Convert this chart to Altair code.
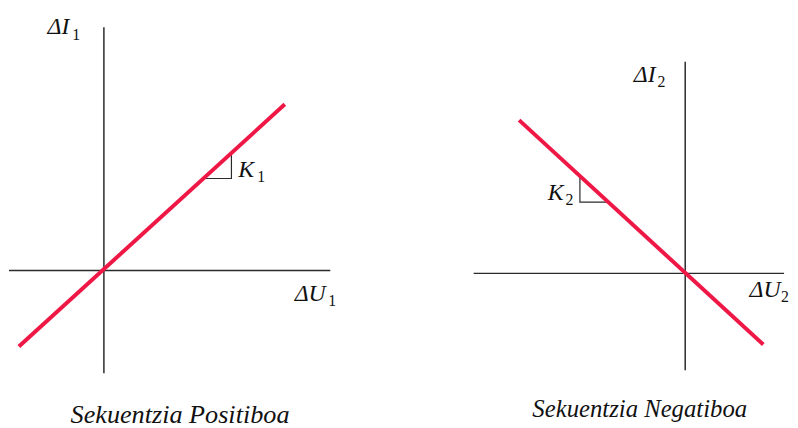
import altair as alt
import pandas as pd

# ---------------- data (diagram units, origin at the axis crossing) ----------------
# Left panel: positive sequence
pos_hax_x = [-9.6, 22.9]
pos_vax_y = [-10.4, 24.6]
pos_line_x = [-8.6, 18.3]
pos_line_y = [-7.7, 16.8]
pos_tri_x = [10.2, 12.9, 12.9]
pos_tri_y = [9.3, 9.3, 11.7]
pos_lbl_text = ["ΔI", "ΔU", "K"]
pos_lbl_x = [-5.7, 19.3, 13.6]
pos_lbl_y = [23.9, -3.1, 9.4]
pos_sub_text = ["1", "1", "1"]
pos_sub_x = [-3.2, 22.7, 15.5]
pos_sub_y = [23.3, -3.6, 8.9]
pos_title = "Sekuentzia Positiboa"
pos_title_xy = [7.7, -15.4]
pos_xdom = [-9.6, 29.4]
pos_ydom = [-15.7, 26.3]

# Right panel: negative sequence
neg_hax_x = [-21.4, 10.0]
neg_vax_y = [-9.8, 21.4]
neg_line_x = [-16.8, 7.9]
neg_line_y = [15.5, -7.2]
neg_tri_x = [-10.65, -10.65, -7.9]
neg_tri_y = [9.7, 7.2, 7.2]
neg_lbl_text = ["ΔI", "ΔU", "K"]
neg_lbl_x = [-5.2, 6.5, -13.9]
neg_lbl_y = [19.4, -2.4, 7.4]
neg_sub_text = ["2", "2", "2"]
neg_sub_x = [-2.8, 9.7, -12.1]
neg_sub_y = [18.9, -2.9, 6.9]
neg_title = "Sekuentzia Negatiboa"
neg_title_xy = [-4.6, -14.5]
neg_xdom = [-29.4, 10.6]
neg_ydom = [-15.4, 26.6]

RED = "#EE1745"
AXC = "#2a2a2a"
FONT = "Liberation Serif"


def panel(hax_x, vax_y, line_x, line_y, tri_x, tri_y, lbl_text, lbl_x, lbl_y,
          sub_text, sub_x, sub_y, title, title_xy, xdom, ydom, w, h, tsize):
    xs = alt.Scale(domain=xdom, nice=False, zero=False)
    ys = alt.Scale(domain=ydom, nice=False, zero=False)

    axes_df = pd.DataFrame({
        "x": [hax_x[0], 0], "x2": [hax_x[1], 0],
        "y": [0, vax_y[0]], "y2": [0, vax_y[1]],
    })
    axes = alt.Chart(axes_df).mark_rule(color=AXC, strokeWidth=1.5).encode(
        x=alt.X("x:Q", scale=xs, axis=None), x2="x2:Q",
        y=alt.Y("y:Q", scale=ys, axis=None), y2="y2:Q",
    )

    tri_df = pd.DataFrame({"x": tri_x, "y": tri_y, "o": list(range(len(tri_x)))})
    tri = alt.Chart(tri_df).mark_line(color=AXC, strokeWidth=1.2).encode(
        x=alt.X("x:Q", scale=xs, axis=None),
        y=alt.Y("y:Q", scale=ys, axis=None),
        order="o:O",
    )

    line_df = pd.DataFrame({"x": line_x, "y": line_y, "o": [0, 1]})
    line = alt.Chart(line_df).mark_line(color=RED, strokeWidth=4).encode(
        x=alt.X("x:Q", scale=xs, axis=None),
        y=alt.Y("y:Q", scale=ys, axis=None),
        order="o:O",
    )

    lbl_df = pd.DataFrame({"x": lbl_x, "y": lbl_y, "t": lbl_text})
    lbl = alt.Chart(lbl_df).mark_text(
        font=FONT, fontStyle="italic", fontSize=24, align="left",
        baseline="alphabetic", color="#111111"
    ).encode(
        x=alt.X("x:Q", scale=xs, axis=None),
        y=alt.Y("y:Q", scale=ys, axis=None),
        text="t:N",
    )

    sub_df = pd.DataFrame({"x": sub_x, "y": sub_y, "t": sub_text})
    sub = alt.Chart(sub_df).mark_text(
        font=FONT, fontSize=16, align="left", baseline="alphabetic",
        color="#111111"
    ).encode(
        x=alt.X("x:Q", scale=xs, axis=None),
        y=alt.Y("y:Q", scale=ys, axis=None),
        text="t:N",
    )

    ttl_df = pd.DataFrame({"x": [title_xy[0]], "y": [title_xy[1]], "t": [title]})
    ttl = alt.Chart(ttl_df).mark_text(
        font=FONT, fontStyle="italic", fontSize=tsize, align="center",
        baseline="alphabetic", color="#111111"
    ).encode(
        x=alt.X("x:Q", scale=xs, axis=None),
        y=alt.Y("y:Q", scale=ys, axis=None),
        text="t:N",
    )

    return alt.layer(axes, tri, line, lbl, sub, ttl).properties(width=w, height=h)


left = panel(pos_hax_x, pos_vax_y, pos_line_x, pos_line_y, pos_tri_x, pos_tri_y,
             pos_lbl_text, pos_lbl_x, pos_lbl_y, pos_sub_text, pos_sub_x, pos_sub_y,
             pos_title, pos_title_xy, pos_xdom, pos_ydom, 390, 420, 26.5)
right = panel(neg_hax_x, neg_vax_y, neg_line_x, neg_line_y, neg_tri_x, neg_tri_y,
              neg_lbl_text, neg_lbl_x, neg_lbl_y, neg_sub_text, neg_sub_x, neg_sub_y,
              neg_title, neg_title_xy, neg_xdom, neg_ydom, 400, 420, 25)

chart = alt.hconcat(left, right, spacing=0).properties(
    padding=0
).configure_view(strokeWidth=0, stroke="transparent")

chart.save("out.html", embed_options={"renderer": "svg", "actions": False})
